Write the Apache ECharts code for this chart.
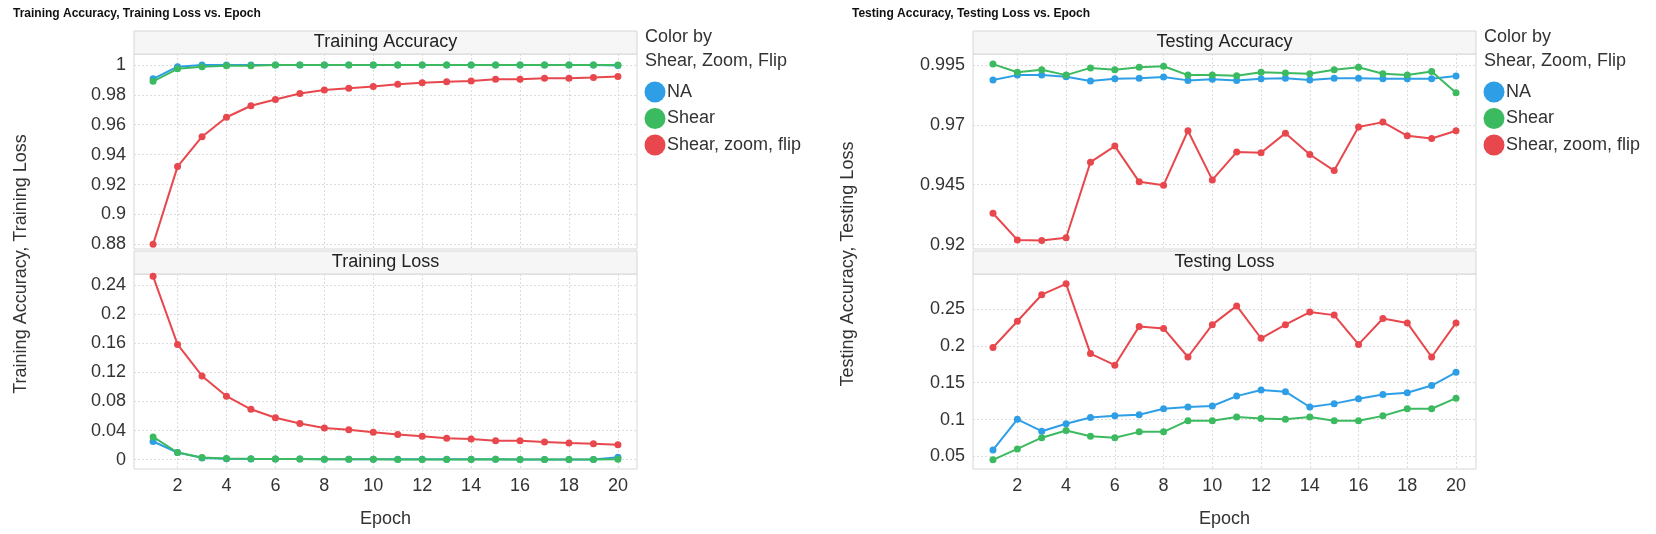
<!DOCTYPE html>
<html>
<head>
<meta charset="utf-8">
<script src="https://cdn.jsdelivr.net/npm/echarts@6/dist/echarts.min.js"></script>
<style>
  html, body { margin: 0; padding: 0; background: #fff; }
  #chart { width: 1656px; height: 534px; }
</style>
</head>
<body>
<div id="chart"></div>
<script>
const epochs = [1, 2, 3, 4, 5, 6, 7, 8, 9, 10, 11, 12, 13, 14, 15, 16, 17, 18, 19, 20];
const seriesNames = ['NA', 'Shear', 'Shear, zoom, flip'];
const colors = ['#2e9fe6', '#3cba60', '#e8484d'];
const epochTicks = [2, 4, 6, 8, 10, 12, 14, 16, 18, 20];

// training accuracy
const trainAccNA = [0.9907, 0.9988, 0.9999, 0.9999, 0.9999, 1.0, 1.0, 1.0, 1.0, 1.0, 1.0, 1.0, 1.0, 1.0, 1.0, 1.0, 1.0, 1.0, 1.0, 0.9996];
const trainAccShear = [0.9890, 0.9974, 0.9988, 0.9995, 0.9995, 1.0, 1.0, 1.0, 1.0, 1.0, 1.0, 1.0, 1.0, 1.0, 1.0, 1.0, 1.0, 1.0, 1.0, 1.0];
const trainAccSZF = [0.8800, 0.9320, 0.9520, 0.9650, 0.9727, 0.9769, 0.9809, 0.9832, 0.9844, 0.9856, 0.9870, 0.9881, 0.9888, 0.9893, 0.9904, 0.9904, 0.9911, 0.9911, 0.9916, 0.9923];

// training loss
const trainLossNA = [0.0249, 0.0098, 0.0024, 0.0012, 0.0010, 0.0009, 0.0008, 0.0006, 0.0006, 0.0005, 0.0004, 0.0004, 0.0004, 0.0004, 0.0005, 0.0003, 0.0003, 0.0003, 0.0003, 0.0034];
const trainLossShear = [0.0312, 0.0098, 0.0030, 0.0015, 0.0012, 0.0010, 0.0009, 0.0005, 0.0006, 0.0005, 0.0003, 0.0003, 0.0003, 0.0003, 0.0006, 0.0003, 0.0003, 0.0003, 0.0003, 0.0005];
const trainLossSZF = [0.2522, 0.1585, 0.1151, 0.0873, 0.0693, 0.0576, 0.0498, 0.0434, 0.0410, 0.0376, 0.0346, 0.0322, 0.0293, 0.0283, 0.0259, 0.0259, 0.0244, 0.0229, 0.0220, 0.0205];

// testing accuracy
const testAccNA = [0.9887, 0.9907, 0.9907, 0.9900, 0.9882, 0.9892, 0.9894, 0.9899, 0.9885, 0.9890, 0.9885, 0.9892, 0.9894, 0.9887, 0.9894, 0.9894, 0.9892, 0.9892, 0.9892, 0.9903];
const testAccShear = [0.9953, 0.9919, 0.9929, 0.9907, 0.9937, 0.9929, 0.9940, 0.9944, 0.9907, 0.9907, 0.9904, 0.9919, 0.9916, 0.9913, 0.9929, 0.9940, 0.9913, 0.9907, 0.9922, 0.9833];
const testAccSZF = [0.9331, 0.9220, 0.9217, 0.9229, 0.9544, 0.9611, 0.9462, 0.9448, 0.9675, 0.9470, 0.9586, 0.9583, 0.9665, 0.9576, 0.9509, 0.9691, 0.9711, 0.9654, 0.9643, 0.9675];

// testing loss
const testLossNA = [0.0588, 0.1003, 0.0842, 0.0943, 0.1027, 0.1050, 0.1064, 0.1147, 0.1170, 0.1184, 0.1318, 0.1401, 0.1378, 0.1170, 0.1216, 0.1281, 0.1341, 0.1364, 0.1461, 0.1641];
const testLossShear = [0.0454, 0.0602, 0.0754, 0.0851, 0.0773, 0.0754, 0.0833, 0.0833, 0.0985, 0.0985, 0.1036, 0.1013, 0.1003, 0.1036, 0.0985, 0.0985, 0.1050, 0.1147, 0.1147, 0.1290];
const testLossSZF = [0.1978, 0.2334, 0.2694, 0.2842, 0.1895, 0.1738, 0.2264, 0.2237, 0.1849, 0.2288, 0.2542, 0.2103, 0.2288, 0.2458, 0.2417, 0.2020, 0.2371, 0.2311, 0.1849, 0.2311];

const trainAccTicks = [0.88, 0.9, 0.92, 0.94, 0.96, 0.98, 1];
const trainLossTicks = [0, 0.04, 0.08, 0.12, 0.16, 0.2, 0.24];
const testAccTicks = [0.92, 0.945, 0.97, 0.995];
const testLossTicks = [0.05, 0.1, 0.15, 0.2, 0.25];

const FONT = 'Liberation Sans, Arial, sans-serif';
const gridLine = { show: true, lineStyle: { color: '#dcdcdc', type: [2, 2], width: 1 } };

const panels = [
  { left: 134, width: 503, top: 54, bottom: 249, min: 0.8769, max: 1.0073, ticks: trainAccTicks, xmin: 0.22, xmax: 20.78, data: [trainAccNA, trainAccShear, trainAccSZF], title: 'Training Accuracy', xlabels: false },
  { left: 134, width: 503, top: 274, bottom: 469, min: -0.0129, max: 0.2554, ticks: trainLossTicks, xmin: 0.22, xmax: 20.78, data: [trainLossNA, trainLossShear, trainLossSZF], title: 'Training Loss', xlabels: true },
  { left: 973, width: 503, top: 54, bottom: 249, min: 0.9182, max: 0.9995, ticks: testAccTicks, xmin: 0.18, xmax: 20.82, data: [testAccNA, testAccShear, testAccSZF], title: 'Testing Accuracy', xlabels: false },
  { left: 973, width: 503, top: 274, bottom: 469, min: 0.0329, max: 0.2975, ticks: testLossTicks, xmin: 0.18, xmax: 20.82, data: [testLossNA, testLossShear, testLossSZF], title: 'Testing Loss', xlabels: true }
];

const grids = [], xAxes = [], yAxes = [], series = [], graphics = [];
panels.forEach((p, i) => {
  grids.push({ left: p.left, top: p.top, width: p.width, height: p.bottom - p.top, show: true, borderColor: '#d6d6d6', borderWidth: 1, backgroundColor: '#fff' });
  xAxes.push({
    type: 'value', gridIndex: i, min: p.xmin, max: p.xmax,
    axisLine: { show: false }, axisTick: { show: false, customValues: epochTicks },
    axisLabel: { show: p.xlabels, customValues: epochTicks, color: '#333', fontSize: 18, fontFamily: FONT, margin: 8 },
    splitLine: gridLine,
    name: p.xlabels ? 'Epoch' : '', nameLocation: 'middle', nameGap: 41,
    nameTextStyle: { color: '#333', fontSize: 18, fontFamily: FONT }
  });
  yAxes.push({
    type: 'value', gridIndex: i, min: p.min, max: p.max,
    axisLine: { show: false }, axisTick: { show: false, customValues: p.ticks },
    axisLabel: { customValues: p.ticks, color: '#333', fontSize: 18, fontFamily: FONT, margin: 8 },
    splitLine: gridLine
  });
  p.data.forEach((d, s) => {
    series.push({
      name: seriesNames[s], type: 'line', xAxisIndex: i, yAxisIndex: i,
      data: epochs.map((e, k) => [e, d[k]]),
      symbol: 'circle', symbolSize: 7, z: s === 2 ? 3 : 2,
      lineStyle: { width: 2, color: colors[s] }, itemStyle: { color: colors[s] }
    });
  });
  graphics.push({
    type: 'rect', shape: { x: p.left, y: p.top - 23, width: p.width, height: 23 },
    style: { fill: '#f6f6f6', stroke: '#d6d6d6', lineWidth: 1 }
  });
  graphics.push({
    type: 'text', x: p.left + p.width / 2, y: p.top - 11.5,
    style: { text: p.title, fill: '#222', font: '18px ' + FONT, textAlign: 'center', textVerticalAlign: 'middle' }
  });
});

// chart titles, axis titles, legends
[[13, 'Training Accuracy, Training Loss vs. Epoch'], [852, 'Testing Accuracy, Testing Loss vs. Epoch']].forEach(t => {
  graphics.push({ type: 'text', x: t[0], y: 14, style: { text: t[1], fill: '#111', font: 'bold 12px ' + FONT, textVerticalAlign: 'middle' } });
});
[[21, 'Training Accuracy, Training Loss'], [848, 'Testing Accuracy, Testing Loss']].forEach(t => {
  graphics.push({ type: 'text', x: t[0], y: 264, rotation: Math.PI / 2, style: { text: t[1], fill: '#333', font: '18px ' + FONT, textAlign: 'center', textVerticalAlign: 'middle' } });
});
[645, 1484].forEach(lx => {
  graphics.push({ type: 'text', x: lx, y: 37, style: { text: 'Color by', fill: '#333', font: '18px ' + FONT, textVerticalAlign: 'middle' } });
  graphics.push({ type: 'text', x: lx, y: 61, style: { text: 'Shear, Zoom, Flip', fill: '#333', font: '18px ' + FONT, textVerticalAlign: 'middle' } });
  seriesNames.forEach((n, s) => {
    const cy = 92 + s * 26.5;
    graphics.push({ type: 'circle', shape: { cx: lx + 10, cy: cy, r: 10.5 }, style: { fill: colors[s] } });
    graphics.push({ type: 'text', x: lx + 22, y: cy, style: { text: n, fill: '#333', font: '18px ' + FONT, textVerticalAlign: 'middle' } });
  });
});

const chart = echarts.init(document.getElementById('chart'));
chart.setOption({
  animation: false,
  grid: grids, xAxis: xAxes, yAxis: yAxes, series: series,
  graphic: graphics,
  tooltip: { trigger: 'axis' }
});
</script>
</body>
</html>
